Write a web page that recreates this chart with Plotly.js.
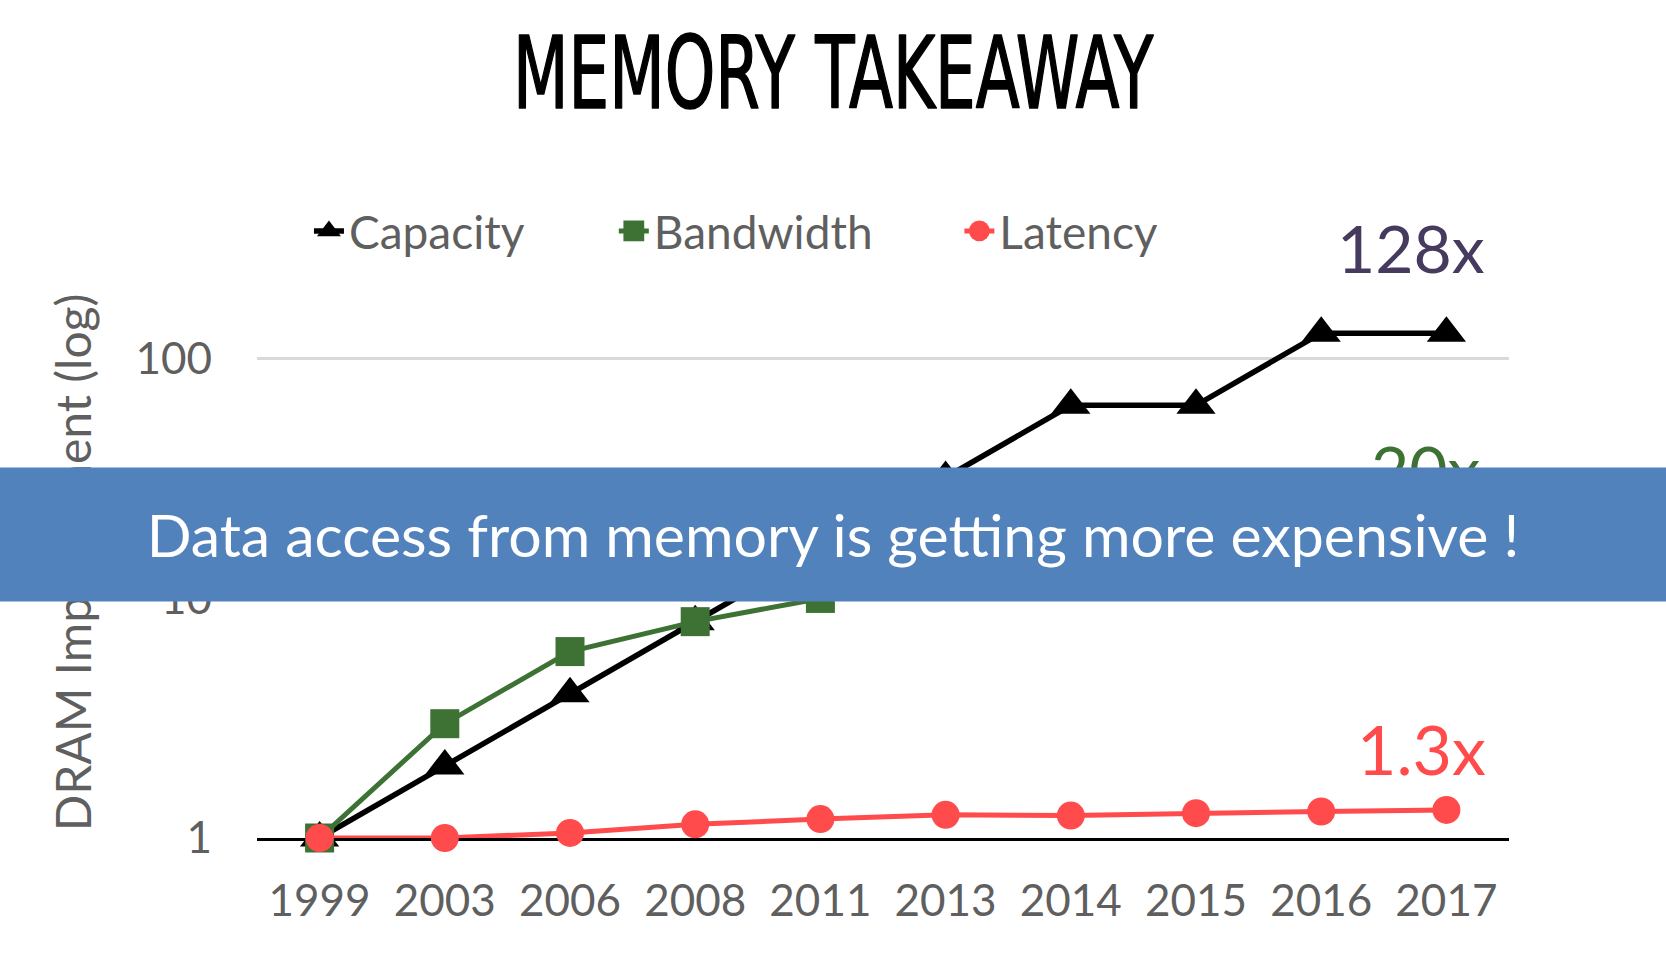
<!DOCTYPE html>
<html>
<head>
<meta charset="utf-8">
<script src="https://cdn.plot.ly/plotly-3.0.1.min.js"></script>
<style>html,body{margin:0;padding:0;background:#fff;}#chart{width:1666px;height:960px;}</style>
</head>
<body>
<div id="chart"></div>
<script>
// ---- data ----
const years = ['1999','2003','2006','2008','2011','2013','2014','2015','2016','2017'];
const capacity = [1, 2, 4, 8, 16, 32, 64, 64, 128, 128];
const bandwidth = [1, 3, 6, 8, 10, 12, 14, 16, 18, 20];
const latency = [1, 1, 1.05, 1.14, 1.2, 1.25, 1.24, 1.27, 1.29, 1.31];
const seriesNames = ['Capacity', 'Bandwidth', 'Latency'];
const yTickVals = [1, 10, 100];
const yTickText = ['1', '10', '100'];
const endLabels = ['128x', '20x', '1.3x'];
const bannerText = 'Data access from memory is getting more expensive !';
const chartTitle = 'MEMORY TAKEAWAY';
const yTitle = 'DRAM Improvement (log)';

const FONT = 'Lato, "Open Sans", sans-serif';
const GRAY = '#5f5f5f';
const BLACK = '#000000', GREEN = '#3d7234', RED = '#ff4b4b', PURPLE = '#463a5f', BLUE = '#5182bb';

const traces = [
  {x: years, y: capacity, name: seriesNames[0], type: 'scatter', mode: 'lines+markers',
   line: {color: BLACK, width: 5.5}, marker: {symbol: 'triangle-up', size: 34, color: BLACK},
   cliponaxis: false, legend: 'legend'},
  {x: years, y: bandwidth, name: seriesNames[1], type: 'scatter', mode: 'lines+markers',
   line: {color: GREEN, width: 5}, marker: {symbol: 'square', size: 29, color: GREEN},
   cliponaxis: false, legend: 'legend2'},
  {x: years, y: latency, name: seriesNames[2], type: 'scatter', mode: 'lines+markers',
   line: {color: RED, width: 5}, marker: {symbol: 'circle', size: 28, color: RED},
   cliponaxis: false, legend: 'legend3'}
];

const legendBase = {orientation: 'h', yanchor: 'middle', xanchor: 'left', y: 1.1015,
  font: {family: FONT, size: 46, color: GRAY}, bgcolor: 'rgba(0,0,0,0)'};

const layout = {
  width: 1666, height: 960,
  paper_bgcolor: '#ffffff', plot_bgcolor: '#ffffff',
  margin: {l: 257, r: 157, t: 287, b: 122, pad: 0},
  title: {text: chartTitle, x: 0.5, xref: 'container', xanchor: 'center',
          y: 1 - 73/960, yref: 'container', yanchor: 'middle',
          font: {family: '"DejaVu Sans Condensed", "DejaVu Sans", sans-serif', size: 100, color: '#000', weight: 'normal'}},
  showlegend: true,
  legend: Object.assign({}, legendBase, {x: 0.0415}),
  legend2: Object.assign({}, legendBase, {x: 0.285}),
  legend3: Object.assign({}, legendBase, {x: 0.561}),
  xaxis: {type: 'category', categoryorder: 'array', categoryarray: years, range: [-0.5, 9.5],
          showline: true, linecolor: '#000', linewidth: 2.5, showgrid: false, zeroline: false,
          ticks: '', ticklabelstandoff: 23, layer: 'below traces',
          tickfont: {family: FONT, size: 44, color: GRAY}, fixedrange: true},
  yaxis: {type: 'log', range: [0, 2.3], tickvals: yTickVals, ticktext: yTickText,
          showgrid: true, gridcolor: '#d9d9d9', gridwidth: 3, showline: false, zeroline: false,
          ticks: '', ticklabelstandoff: 44, layer: 'below traces',
          tickfont: {family: FONT, size: 44, color: GRAY}, fixedrange: true,
          title: {text: yTitle, standoff: 28, font: {family: FONT, size: 48, color: GRAY}}},
  annotations: [
    {text: endLabels[0], xref: 'paper', yref: 'paper', x: 0.9217, y: 1.0708, xanchor: 'center', yanchor: 'middle',
     showarrow: false, font: {family: FONT, size: 66, color: PURPLE}},
    {text: endLabels[1], xref: 'paper', yref: 'paper', x: 0.9337, y: 0.6697, xanchor: 'center', yanchor: 'middle',
     showarrow: false, font: {family: FONT, size: 66, color: GREEN}},
    {text: endLabels[2], xref: 'paper', yref: 'paper', x: 0.93, y: 0.1633, xanchor: 'center', yanchor: 'middle',
     showarrow: false, font: {family: FONT, size: 68, color: RED}},
    {text: bannerText, xref: 'paper', yref: 'paper', x: 0.46, y: 0.5517, xanchor: 'center', yanchor: 'middle',
     showarrow: false, width: 1680, height: 133, borderpad: 0, bgcolor: BLUE, align: 'center', valign: 'middle',
     font: {family: FONT, size: 59, color: '#ffffff'}}
  ]
};

Plotly.newPlot('chart', traces, layout, {displayModeBar: false, staticPlot: true}).then(function () {
  const t = document.querySelector('.gtitle');
  if (t) {
    t.style.stroke = '#000';
    t.style.strokeWidth = '1.6px';
    t.style.strokeLinejoin = 'round';
    const bb = t.getBBox();
    const sx = 641 / bb.width;
    const cx = bb.x + bb.width / 2;
    t.setAttribute('transform', 'translate(' + cx + ',0) scale(' + sx + ',1) translate(' + (-cx) + ',0)');
  }
  document.querySelectorAll('.legendpoints path.scatterpts').forEach(function (p) {
    const tr = p.getAttribute('transform') || '';
    p.setAttribute('transform', tr + ' scale(1.3)');
  });
});
</script>
</body>
</html>
